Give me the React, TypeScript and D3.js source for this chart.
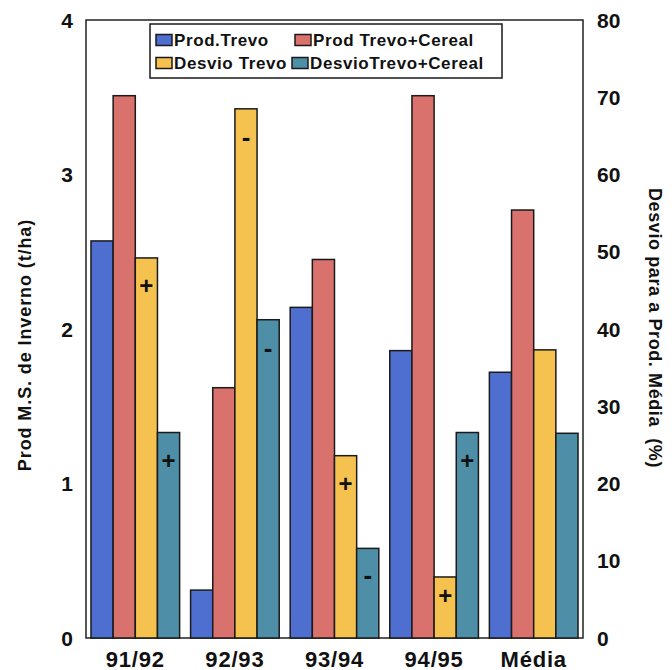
import React from "react";
import * as d3 from "d3";

const categories = ["91/92", "92/93", "93/94", "94/95", "Média"];
const prodTrevo = [2.57, 0.31, 2.14, 1.86, 1.72];
const prodTrevoCereal = [3.51, 1.62, 2.45, 3.51, 2.77];
const desvioTrevo = [49.2, 68.5, 23.6, 7.9, 37.3];
const desvioTrevoCereal = [26.6, 41.2, 11.6, 26.6, 26.5];
const desvioTrevoSigns = ["+", "-", "+", "+", ""];
const desvioTrevoCerealSigns = ["+", "-", "-", "+", ""];
const leftTicks = [0, 1, 2, 3, 4];
const rightTicks = [0, 10, 20, 30, 40, 50, 60, 70, 80];

const W = 672;
const H = 670;
const FONT = "'Liberation Sans', Arial, Helvetica, sans-serif";

const plot = { left: 86, right: 583, top: 20, bottom: 638 };

type Series = {
  key: string;
  label: string;
  color: string;
  values: number[];
  axis: "left" | "right";
  signs?: string[];
};

const series: Series[] = [
  { key: "pt", label: "Prod.Trevo", color: "#4f6fd0", values: prodTrevo, axis: "left" },
  { key: "ptc", label: "Prod Trevo+Cereal", color: "#d9716c", values: prodTrevoCereal, axis: "left" },
  { key: "dt", label: "Desvio Trevo", color: "#f6c24f", values: desvioTrevo, axis: "right", signs: desvioTrevoSigns },
  { key: "dtc", label: "DesvioTrevo+Cereal", color: "#4e8fa7", values: desvioTrevoCereal, axis: "right", signs: desvioTrevoCerealSigns },
];

export default function App() {
  const x0 = d3
    .scaleBand<string>()
    .domain(categories)
    .range([plot.left, plot.right])
    .paddingInner(0.11)
    .paddingOuter(0.05);
  const x1 = d3
    .scaleBand<string>()
    .domain(series.map((s) => s.key))
    .range([0, x0.bandwidth()]);
  const yLeft = d3.scaleLinear().domain([0, 4]).range([plot.bottom, plot.top]);
  const yRight = d3.scaleLinear().domain([0, 80]).range([plot.bottom, plot.top]);

  const legendItems = [
    { s: series[0], x: 156, y: 40 },
    { s: series[1], x: 295, y: 40 },
    { s: series[2], x: 156, y: 63 },
    { s: series[3], x: 292, y: 63 },
  ];

  return (
    <svg
      width={W}
      height={H}
      style={{ position: "absolute", left: 0, top: 0, background: "#fff" }}
      fontFamily={FONT}
    >
      <rect x={0} y={0} width={W} height={H} fill="#fff" />
      {/* plot frame */}
      <rect
        x={plot.left}
        y={plot.top}
        width={plot.right - plot.left}
        height={plot.bottom - plot.top}
        fill="#fff"
        stroke="#222"
        strokeWidth={1.5}
      />

      {/* bars */}
      {categories.map((c, i) => (
        <g key={c} transform={`translate(${x0(c)},0)`}>
          {series.map((s) => {
            const y = s.axis === "left" ? yLeft : yRight;
            const top = y(s.values[i]);
            const h = plot.bottom - top;
            const bx = x1(s.key)!;
            const bw = x1.bandwidth();
            const sign = s.signs ? s.signs[i] : "";
            return (
              <g key={s.key}>
                <rect
                  x={bx}
                  y={top}
                  width={bw}
                  height={h}
                  fill={s.color}
                  stroke="#1a1a1a"
                  strokeWidth={1.5}
                />
                {sign && (
                  <text
                    x={bx + bw / 2}
                    y={top + Math.min(28, h * 0.3)}
                    textAnchor="middle"
                    dominantBaseline="central"
                    fontSize={sign === "+" ? 24 : 26}
                    fontWeight="bold"
                    fill="#111"
                  >
                    {sign}
                  </text>
                )}
              </g>
            );
          })}
        </g>
      ))}

      {/* left axis labels */}
      {leftTicks.map((t) => (
        <text
          key={`l${t}`}
          x={73}
          y={yLeft(t)}
          textAnchor="end"
          dominantBaseline="central"
          fontSize={21}
          fontWeight="bold"
          fill="#111"
        >
          {t}
        </text>
      ))}
      {/* right axis labels */}
      {rightTicks.map((t) => (
        <text
          key={`r${t}`}
          x={597}
          y={yRight(t)}
          textAnchor="start"
          dominantBaseline="central"
          fontSize={21}
          fontWeight="bold"
          fill="#111"
        >
          {t}
        </text>
      ))}

      {/* category labels */}
      {categories.map((c) => (
        <text
          key={`c${c}`}
          x={x0(c)! + x0.bandwidth() / 2}
          y={659}
          textAnchor="middle"
          dominantBaseline="central"
          fontSize={22}
          fontWeight="bold"
          letterSpacing={0.8}
          fill="#111"
        >
          {c}
        </text>
      ))}

      {/* axis titles */}
      <text
        transform={`translate(25,345) rotate(-90)`}
        textAnchor="middle"
        dominantBaseline="central"
        fontSize={18}
        fontWeight="bold"
        letterSpacing={0.9}
        fill="#111"
      >
        Prod M.S. de Inverno (t/ha)
      </text>
      <text
        transform={`translate(655,328) rotate(90)`}
        textAnchor="middle"
        dominantBaseline="central"
        fontSize={18}
        fontWeight="bold"
        letterSpacing={0.6}
        fill="#111"
        style={{ whiteSpace: "pre" }}
      >
        {"Desvio para a Prod. Média  (%)"}
      </text>

      {/* legend */}
      <rect x={150} y={24} width={352} height={54} fill="#fff" stroke="#1a1a1a" strokeWidth={1.5} />
      {legendItems.map(({ s, x, y }) => (
        <g key={`lg${s.key}`}>
          <rect x={x} y={y - 5.5} width={16} height={11} fill={s.color} stroke="#1a1a1a" strokeWidth={1.5} />
          <text
            x={x + 18}
            y={y}
            dominantBaseline="central"
            fontSize={17}
            fontWeight="bold"
            letterSpacing={0.6}
            fill="#111"
          >
            {s.label}
          </text>
        </g>
      ))}
    </svg>
  );
}
